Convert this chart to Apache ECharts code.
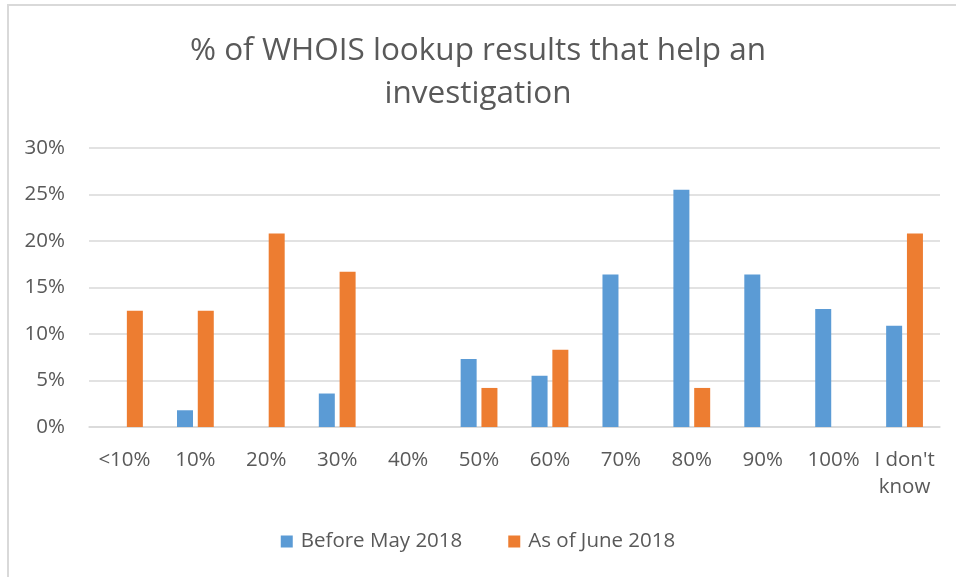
<!DOCTYPE html>
<html>
<head>
<meta charset="utf-8">
<script src="https://cdn.jsdelivr.net/npm/echarts@6/dist/echarts.min.js"></script>
<style>
html,body{margin:0;padding:0;background:#fff;}
#frame{position:absolute;left:7px;top:4px;width:980px;height:600px;border:2px solid #d9d9d9;box-sizing:border-box;}
#chart{position:absolute;left:0;top:0;width:956px;height:577px;}
</style>
</head>
<body>
<div id="frame"></div>
<div id="chart"></div>
<script>
const titleText = "% of WHOIS lookup results that help an\ninvestigation";
const categories = ["<10%", "10%", "20%", "30%", "40%", "50%", "60%", "70%", "80%", "90%", "100%", "I don't know"];
const beforeMay2018 = [0, 1.8, 0, 3.6, 0, 7.3, 5.5, 16.4, 25.5, 16.4, 12.7, 10.9];
const asOfJune2018 = [12.5, 12.5, 20.8, 16.7, 0, 4.2, 8.3, 0, 4.2, 0, 0, 20.8];
const seriesNames = ["Before May 2018", "As of June 2018"];
const yTicks = {min: 0, max: 30, interval: 5};

const font = "'Open Sans', sans-serif";
const chart = echarts.init(document.getElementById('chart'));
chart.setOption({
  animation: false,
  title: {
    text: titleText, left: 'center', top: 25,
    textStyle: {fontFamily: font, fontSize: 31.5, fontWeight: 'normal', color: '#595959', lineHeight: 43}
  },
  legend: {
    bottom: 20, left: 'center', itemWidth: 12, itemHeight: 12, itemGap: 46,
    icon: 'rect',
    textStyle: {fontFamily: font, fontSize: 20.5, color: '#595959', padding: [0, 0, 0, 3]}
  },
  grid: {left: 89, right: 16, top: 148, bottom: 150},
  xAxis: {
    type: 'category', data: categories,
    axisTick: {show: false},
    axisLine: {lineStyle: {color: '#d9d9d9', width: 1.5}},
    axisLabel: {
      fontFamily: font, fontSize: 20.5, color: '#595959', margin: 20, interval: 0, lineHeight: 27,
      formatter: v => v === "I don't know" ? "I don't\nknow" : v
    }
  },
  yAxis: {
    type: 'value', min: yTicks.min, max: yTicks.max, interval: yTicks.interval,
    axisLabel: {fontFamily: font, fontSize: 20.5, color: '#595959', margin: 24, formatter: '{value}%'},
    splitLine: {lineStyle: {color: '#d9d9d9', width: 1.5}},
    axisLine: {show: false}, axisTick: {show: false}
  },
  series: [
    {name: seriesNames[0], type: 'bar', data: beforeMay2018, barWidth: 16, barGap: '30%', itemStyle: {color: '#5B9BD5'}},
    {name: seriesNames[1], type: 'bar', data: asOfJune2018, barWidth: 16, barGap: '30%', itemStyle: {color: '#ED7D31'}}
  ]
});
</script>
</body>
</html>
